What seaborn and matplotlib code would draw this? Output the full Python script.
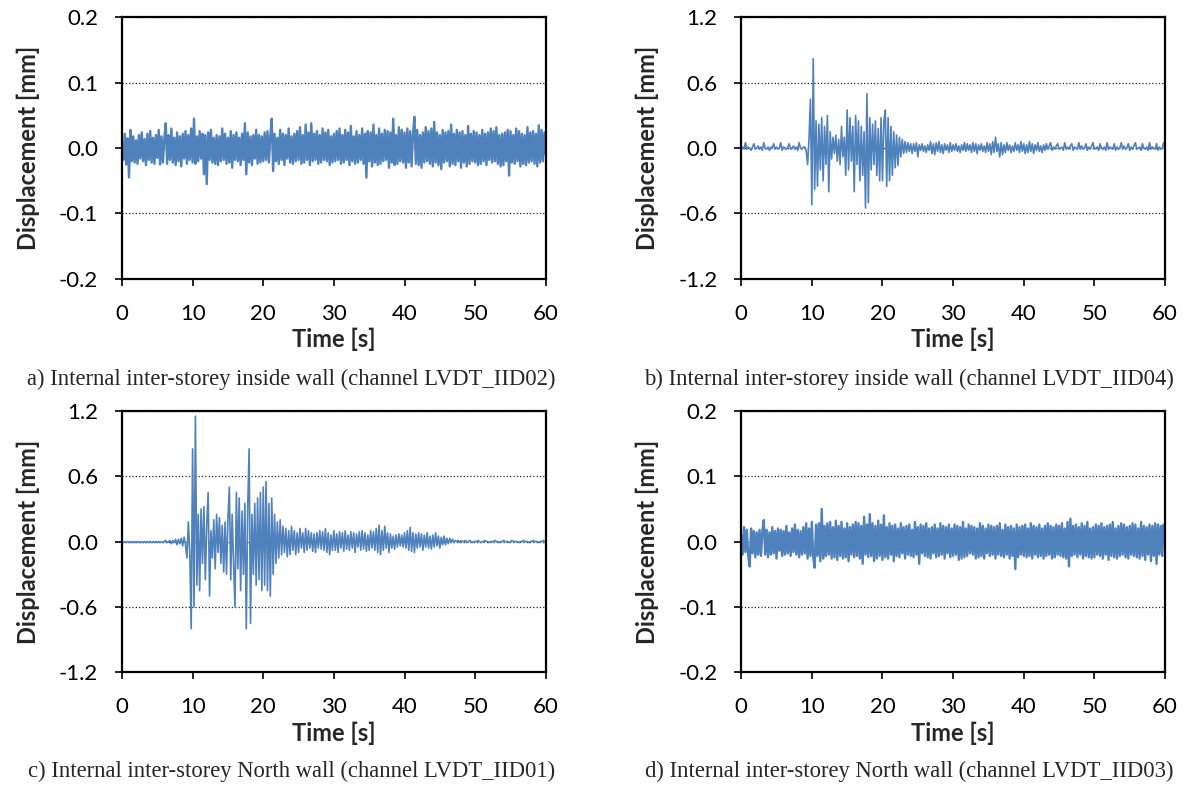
import numpy as np
import pandas as pd
import matplotlib
matplotlib.use("Agg")
import matplotlib.pyplot as plt
from matplotlib.ticker import FormatStrFormatter
import seaborn as sns

# sampling of the digitised records, 0.2 s steps from 0 to 60 s
time = np.round(np.arange(0, 301) * 0.2, 1)

# LVDT_IID02, values in 0.001 mm
iid02 = [
    5, -18, 22, -25, 15, -45, 28, -20, 18, -22, 12, -24, 20, -16, 24, -20, 14, -26, 22, -18,
    26, -22, 16, -24, 20, -15, 28, -25, 18, -22, 14, 38, -24, 20, -18, 30, -22, 16, -26, 24,
    -20, 18, -28, 22, -16, 26, -24, 20, -18, 30,
    -22, 45, -24, 18, -20, 26, -16, 22, -40, 20, -55, 24, -18, 28, -22, 16, -24, 20, -26, 18,
    -20, 30, -18, 22, -24, 16, -22, 26, -30, 20, -18, 24, -20, 16, -26, 22, -18, 38, -40, 24,
    -22, 18, -26, 20, -16, 28, -24, 20, -22, 18,
    -20, 24, -18, 26, -22, 18, 45, -35, 22, -20, 16, -24, 28, -18, 22, -26, 20, -16, 30, -22,
    18, -24, 22, -20, 26, -18, 32, -24, 20, -22, 36, -18, 24, -26, 38, -20, 22, -18, 26, -24,
    20, -22, 30, -18, 24, -20, 28, -26, 18, -22,
    22, -20, 26, -18, 30, -24, 20, -22, 28, -18, 24, -26, 34, -20, 18, -24, 26, -22, 20, -18,
    30, -24, 22, -45, 26, -20, 24, -28, 36, -22, 20, -26, 30, -24, 22, -20, 28, -18, 26, -30,
    24, -22, 45, -26, 20, -24, 32, -20, 28, -22,
    24, -30, 30, -22, 26, -28, 22, 48, -24, 28, -26, 20, -30, 24, -22, 32, -20, 26, -24, 30,
    -28, 40, -22, 24, -26, 20, -32, 28, -22, 24, -20, 26, -28, 36, -24, 22, -26, 28, -20, 24,
    -30, 26, -22, 20, -28, 34, -24, 22, -20, 26,
    -22, 24, -26, 20, -24, 28, -20, 22, -26, 24, -18, 30, -22, 26, -20, 32, -24, 20, -28, 22,
    -26, 24, -20, 28, -42, 26, -22, 20, -24, 30, -20, 26, -28, 22, -24, 20, -26, 32, -22, 24,
    -20, 26, -24, 22, -28, 35, -22, 28, -20, 24, -10,
]

# LVDT_IID04, values in 0.01 mm
iid04 = [
    0, 1, -1, 5, -1, 1, 0, -2, 1, 4, -1, 0, 2, -1, 1, -2, 5, 0, -1, 1,
    -2, 1, 0, 4, -1, 1, -1, 0, 5, -2, 1, 0, -1, 1, 4, -1, 0, 2, -1, 1,
    -2, 5, 0, -1, 1, 1, -2, -15, 8, 45,
    -52, 82, -38, 25, -35, 22, -20, 28, -30, 20, -15, 30, -40, 15, -10, 10, -5, 12, -12, 8,
    -15, 20, -8, 10, -25, 35, -20, 28, -12, 20, -40, 30, -15, 25, -30, 20, -25, 15, -55, 50,
    -50, 28, -20, 22, -15, 25, -25, 18, -30, 28,
    -30, 25, 35, -35, 28, -30, 20, -25, 15, -18, 12, -16, 10, -8, 8, -5, 6, -4, 5, -3,
    4, -5, 4, -3, 5, -8, 3, -2, 4, -3, 2, -4, 3, -2, 6, -5, 4, -6, 5, -3,
    6, -4, 3, -5, 4, -2, 3, -4, 5, -3,
    3, -2, 4, -3, 2, -4, 3, -2, 5, -3, 4, -2, 3, -4, 5, -3, 4, -5, 3, -2,
    4, -3, 2, -4, 5, -3, 4, -6, 6, -4, 10, -3, 4, -8, 5, -6, 3, -4, 5, -2,
    3, -4, 2, -3, 5, -2, 3, -4, 6, -3,
    4, -5, 3, -4, 6, -3, 4, -5, 3, -2, 5, -3, 2, -4, 3, -2, 4, -1, 2, 5,
    -2, 1, -1, 2, 4, -1, 0, 1, -2, 5, -1, 1, -1, 2, 4, -2, 1, 0, -1, 5,
    -1, 2, -1, 0, 4, -2, 1, -1, 2, 5,
    -1, 0, 1, -2, 4, 0, -1, 1, -2, 5, -1, 1, 0, -1, 4, -2, 1, -1, 0, 5,
    -1, 2, -1, 0, 4, -2, 1, -1, 2, 5, -1, 0, 1, -2, 4, 0, -1, 1, -2, 5,
    -1, 1, 0, -1, 4, -2, 1, -1, 0, 5, 0,
]

# LVDT_IID01, values in 0.01 mm
iid01 = [
    0, -1, 0, -1, 0, -1, 0, -1, 0, -1, 0, -1, 0, -1, 0, -1, 0, -1, 0, -1,
    0, -1, 0, -1, 0, -1, 0, -1, 0, -1, 0, 1, -1, 0, 1, -2, 1, -1, 2, -3,
    2, -2, 3, -4, 4, -3, -15, 18, -10, -80,
    85, -60, 115, -40, 25, -45, 30, -20, 32, -35, 15, 45, -50, 10, -15, 20, -25, 25, -10, 22,
    -20, 15, -28, 18, -30, 20, 50, -35, 25, -20, -60, 45, -25, 40, -45, 28, -30, 35, -80, 30,
    85, -75, 25, -30, 35, -40, 40, -35, 45, -45,
    50, -40, 55, -45, 35, -50, 40, -30, 25, -20, 18, -15, 20, -12, 14, -10, 12, -14, 10, -12,
    14, -8, 10, -12, 8, -10, 12, -6, 8, -10, 12, -8, 10, -6, 8, -9, 7, -10, 8, -6,
    10, -7, 9, -8, 12, -10, 8, -12, 6, -8,
    10, -8, 7, -10, 9, -6, 8, -9, 10, -7, 6, -8, 9, -6, 8, -10, 7, -5, 9, -8,
    10, -7, 8, -9, 6, -8, 10, -6, 9, -8, 12, -10, 15, -12, 10, -8, 14, -6, 8, -10,
    7, -6, 5, -7, 6, -5, 7, -4, 6, -5,
    8, -6, 10, -8, 13, -9, 8, -10, 7, -6, 8, -5, 7, -8, 6, -5, 8, -6, 5, -7,
    6, -5, 8, -4, 5, -6, 4, -3, 5, -3, 3, -2, 3, -1, 2, -1, 1, 0, 1, -1,
    1, 0, 0, 1, -1, 0, 1, 0, -1, 0,
    0, 0, 1, 0, -1, 0, 0, 1, 0, 0, -1, 0, 0, 0, 1, 0, 0, -1, 0, 0,
    1, 0, 0, 0, -1, 0, 1, 0, 0, 0, 0, -1, 0, 0, 1, 0, 0, 0, -1, 0,
    0, 1, 0, 0, 0, -1, 0, 0, 1, 0, 0,
]

# LVDT_IID03, values in 0.001 mm
iid03 = [
    10, -20, 22, -16, 18, -22, -38, 20, -18, 16, -24, 14, -20, 18, -22, 16, 33, -20, 18, -24,
    14, -20, 22, -18, 16, -26, 20, -14, 18, -22, 16, -20, 24, -18, 14, -22, 20, -16, 26, -20,
    18, -24, 16, -20, 22, -18, 28, -26, 20, -22,
    30, -24, -40, 26, -22, 28, -30, 50, -26, 24, -22, 28, -20, 30, -26, 22, -24, 32, -28, 24,
    -22, 30, -26, 20, -24, 28, -30, 22, -20, 26, -24, 30, -22, 28, -26, 24, -34, 38, -20, 26,
    -24, 42, -22, 28, -30, 24, -26, 32, -22, 26,
    -28, 40, -24, 22, -26, 28, -20, 24, -30, 26, -22, 20, -24, 28, -18, 22, -26, 24, -20, 26,
    -22, 18, -24, 30, -20, 22, -34, 26, -18, 24, -22, 28, -24, 20, -26, 22, -18, 26, -24, 20,
    -22, 28, -20, 24, -26, 22, -18, 26, -24, 20,
    -22, 26, -20, 24, -28, 22, -26, 30, -24, 20, -22, 26, -18, 24, -20, 22, -26, 20, -24, 28,
    -22, 24, -26, 20, -18, 26, -22, 24, -20, 22, -26, 24, -20, 28, -22, 18, -24, 26, -20, 22,
    -26, 24, -22, 20, -42, 26, -24, 22, -20, 24,
    -22, 26, -24, 20, -22, 28, -26, 24, -20, 22, -24, 26, -22, 20, -26, 24, -22, 28, -20, 24,
    -26, 22, -24, 26, -20, 24, -22, 28, -24, 20, -26, 30, -38, 35, -22, 24, -20, 26, -24, 22,
    -20, 28, -26, 24, -22, 30, -24, 20, -26, 22,
    -24, 26, -20, 24, -22, 28, -26, 22, -20, 24, -28, 26, -22, 30, -24, 20, -26, 24, -22, 28,
    -20, 26, -24, 22, -26, 24, -20, 28, -22, 26, -24, 20, -26, 30, -22, 24, -28, 22, -20, 26,
    -30, 24, -22, 28, -34, 26, -20, 24, -22, 26, 0,
]

captions = [
    "a) Internal inter-storey inside wall (channel LVDT_IID02)",
    "b) Internal inter-storey inside wall (channel LVDT_IID04)",
    "c) Internal inter-storey North wall (channel LVDT_IID01)",
    "d) Internal inter-storey North wall (channel LVDT_IID03)",
]
small_ticks = [-0.2, -0.1, 0.0, 0.1, 0.2]
large_ticks = [-1.2, -0.6, 0.0, 0.6, 1.2]

sns.set_style("white")
plt.rcParams['font.family'] = ['Lato', 'DejaVu Sans']
plt.rcParams['axes.unicode_minus'] = False

blue = "#4F81BD"
fig = plt.figure(figsize=(11.84, 7.9), dpi=100)

# data, unit, y ticks, axes box, line width, caption anchor
panels = [
    (iid02, 0.001, small_ticks, [0.103, 0.647, 0.358, 0.331], 1.7, (0.246, 0.520)),
    (iid04, 0.01, large_ticks, [0.626, 0.647, 0.358, 0.331], 1.2, (0.768, 0.520)),
    (iid01, 0.01, large_ticks, [0.103, 0.149, 0.358, 0.331], 1.2, (0.246, 0.023)),
    (iid03, 0.001, small_ticks, [0.626, 0.149, 0.358, 0.331], 1.7, (0.768, 0.023)),
]

for (vals, unit, yticks, pos, lw, cpos), cap in zip(panels, captions):
    ax = fig.add_axes(pos)
    df = pd.DataFrame({"t": time, "d": np.array(vals) * unit})
    sns.lineplot(data=df, x="t", y="d", ax=ax, color=blue, linewidth=lw, estimator=None)
    ax.set_xlim(0, 60)
    ax.set_ylim(yticks[0], yticks[-1])
    ax.set_xticks([0, 10, 20, 30, 40, 50, 60])
    ax.set_yticks(yticks)
    ax.yaxis.set_major_formatter(FormatStrFormatter('%.1f'))
    ax.yaxis.grid(True, linestyle=':', color='#222222', linewidth=0.9)
    ax.set_axisbelow(True)
    for s in ax.spines.values():
        s.set_color('black')
        s.set_linewidth(1.6)
    ax.tick_params(axis='both', which='major', direction='out', length=5, width=1.2,
                   labelsize=16, left=True, bottom=True, colors='black')
    ax.tick_params(axis='x', pad=13)
    ax.tick_params(axis='y', pad=12)
    ax.set_xlabel("Time [s]", fontsize=17, fontweight='bold', labelpad=3)
    ax.set_ylabel("Displacement [mm]", fontsize=17, fontweight='bold', labelpad=14)
    fig.text(cpos[0], cpos[1], cap, ha='center', va='center',
             fontsize=16.3, family='Liberation Serif')

fig.savefig("out.png", dpi=100)
